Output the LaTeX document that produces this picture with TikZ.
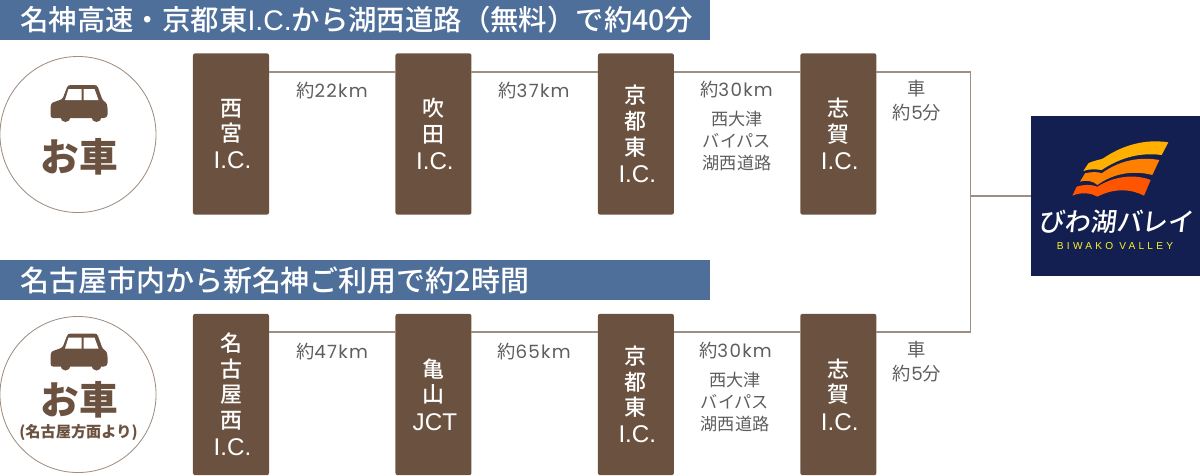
\documentclass[tikz,border=0pt]{standalone}
\usepackage{fontspec}
\setmainfont{Noto Sans CJK JP}
\newfontfamily\latinfont{Liberation Sans}
\newfontfamily\digitfont[LetterSpace=7]{Poppins}
\newfontfamily\mediumfont{Noto Sans CJK JP Medium}
\newfontfamily\logofont[FakeSlant=0.12]{Noto Sans CJK JP Medium}
\usepackage{xcolor}
\usetikzlibrary{positioning,calc}
\definecolor{barblue}{HTML}{4F6F9B}
\definecolor{boxbrown}{HTML}{6B5240}
\definecolor{linebrown}{HTML}{A08E80}
\definecolor{labelgray}{HTML}{5E5E5E}
\definecolor{navy}{HTML}{131F50}
\definecolor{waveone}{HTML}{FFB000}
\definecolor{wavetwo}{HTML}{FF8000}
\definecolor{wavethree}{HTML}{FF5500}
\newcommand{\stopcode}[1]{{\latinfont\fontsize{17.2}{18}\selectfont\hspace*{2pt}#1}}

\begin{document}
\begin{tikzpicture}[
    x=0.025cm, y=-0.025cm,
    node distance=3.16cm,
    stopbox/.style={rectangle, fill=boxbrown, text=white, minimum width=1.9cm, minimum height=4.03cm, inner sep=0pt, outer sep=0pt, rounded corners=1.5pt, align=center, font=\mediumfont\fontsize{15.6}{18.3}\selectfont},
    headbar/.style={rectangle, fill=barblue, text=white, minimum width=17.75cm, minimum height=1cm, inner sep=0pt, outer sep=0pt, anchor=north west},
    headtext/.style={anchor=west, text=white, inner sep=0pt, font=\mediumfont\fontsize{20.2}{22}\selectfont},
    lbl/.style={text=labelgray, inner sep=0pt, align=center, font=\fontsize{13}{17}\selectfont},
    sublbl/.style={text=labelgray, inner sep=0pt, align=center, font=\fontsize{12.2}{15.8}\selectfont},
    mode/.style={circle, draw=linebrown, line width=0.6pt, minimum size=3.9cm, inner sep=0pt, outer sep=0pt},
    modetext/.style={text=boxbrown, inner sep=0pt, font=\bfseries\fontsize{27.5}{29}\selectfont},
    link/.style={draw=linebrown, line width=1pt},
    car/.pic={
        \fill[boxbrown, rounded corners=1pt] (1,18) -- (12,14) -- (17,1) -- (19,0) -- (45,0) -- (47,1) -- (52,15) -- (56,18) -- (57,22) -- (57,31) -- (55,33) -- (1,33) -- (0,31) -- (0,22) -- cycle;
        \fill[white] (14.5,15) -- (18,4) -- (31,4) -- (31,15) -- cycle;
        \fill[white] (33,4) -- (44,4) -- (48,15) -- (33,15) -- cycle;
        \fill[boxbrown] (15,32) circle (5) (46,32) circle (5);
    }
]
    \useasboundingbox (0,0) rectangle (1200,475);

    % Header bars
    \node[headbar] (bartop) at (0,0) {};
    \node[headbar] (barbottom) at (0,260) {};
    \node[headtext] (titletop) at (20,20) {名神高速・京都東{\latinfont I.C.}から湖西道路（無料）で約40分};
    \node[headtext, font=\mediumfont\fontsize{20.6}{22}\selectfont] (titlebottom) at (20,280) {名古屋市内から新名神ご利用で約2時間};

    % Stops
    \node[stopbox] (nishinomiya) at (231,134) {西\\宮\\[1pt]\stopcode{I.C.}};
    \node[stopbox, right=of nishinomiya] (suita) {吹\\田\\[1pt]\stopcode{I.C.}};
    \node[stopbox, right=of suita] (kyotoeast) {京\\都\\東\\[1pt]\stopcode{I.C.}};
    \node[stopbox, right=of kyotoeast] (shiga) {志\\賀\\[1pt]\stopcode{I.C.}};
    \node[stopbox] (nagoyawest) at (231,394.5) {名\\古\\屋\\西\\[1pt]\stopcode{I.C.}};
    \node[stopbox, right=of nagoyawest] (kameyama) {亀\\山\\[1pt]\stopcode{JCT}};
    \node[stopbox, right=of kameyama] (kyotoeastb) {京\\都\\東\\[1pt]\stopcode{I.C.}};
    \node[stopbox, right=of kyotoeastb] (shigab) {志\\賀\\[1pt]\stopcode{I.C.}};

    % Connectors
    \coordinate (railtop) at (970.5,72);
    \coordinate (railbottom) at (970.5,332);
    \draw[link] (nishinomiya.east |- railtop) -- (suita.west |- railtop);
    \draw[link] (suita.east |- railtop) -- (kyotoeast.west |- railtop);
    \draw[link] (kyotoeast.east |- railtop) -- (shiga.west |- railtop);
    \draw[link] (shiga.east |- railtop) -- (railtop) -- (railbottom) -- (shigab.east |- railbottom);
    \draw[link] (nagoyawest.east |- railbottom) -- (kameyama.west |- railbottom);
    \draw[link] (kameyama.east |- railbottom) -- (kyotoeastb.west |- railbottom);
    \draw[link] (kyotoeastb.east |- railbottom) -- (shigab.west |- railbottom);

    % Distances
    \node[lbl] (dista) at (332,91) {約{\digitfont 22km}};
    \node[lbl] (distb) at (534,91) {約{\digitfont 37km}};
    \node[lbl] (distc) at (736.5,90) {約{\digitfont 30km}};
    \node[sublbl] (viatop) at (737,141) {西大津\\バイパス\\湖西道路};
    \node[lbl] (drivetop) at (917,101) {車\\約{\digitfont 5}分};
    \node[lbl] (distd) at (332,352) {約{\digitfont 47km}};
    \node[lbl] (diste) at (534,352) {約{\digitfont 65km}};
    \node[lbl] (distf) at (735.5,351) {約{\digitfont 30km}};
    \node[sublbl] (viabottom) at (735,402) {西大津\\バイパス\\湖西道路};
    \node[lbl] (drivebottom) at (917,362) {車\\約{\digitfont 5}分};

    % Car circles
    \node[mode] (cartop) at (78,134.5) {};
    \pic at (50.5,85) {car};
    \node[modetext] (cartoptext) at (79,157) {お車};
    \node[mode] (carbottom) at (78,394.5) {};
    \pic at (50.5,333.5) {car};
    \node[modetext] (carbottomtext) at (79,400) {お車};
    \node[text=boxbrown, inner sep=0pt, font=\bfseries\fontsize{10.8}{12}\selectfont] (carbottomsub) at (78.5,433) {(名古屋方面より)};

    % Logo
    \node[rectangle, fill=navy, minimum width=4.225cm, minimum height=4cm, inner sep=0pt, outer sep=0pt] (logo) at (1115.5,196) {};
    \draw[link] (railtop |- logo.west) -- (logo.west);
    \begin{scope}[shift={(1020,105)}, x=0.025cm/3, y=-0.025cm/3]
        \fill[waveone] (190,198) -- (205,175) .. controls (225,165) and (240,165) .. (250,160) .. controls (300,125) and (370,100) .. (445,112) -- (425,150) .. controls (350,140) and (290,165) .. (245,195) .. controls (225,192) and (205,192) .. (190,198) -- cycle;
        \fill[wavetwo] (180,230) -- (195,205) .. controls (215,200) and (235,200) .. (245,205) .. controls (300,165) and (360,155) .. (418,165) -- (397,210) .. controls (340,195) and (280,205) .. (232,240) .. controls (215,225) and (195,225) .. (180,230) -- cycle;
        \fill[wavethree] (157,272) -- (170,245) .. controls (190,238) and (215,238) .. (232,245) .. controls (280,215) and (340,205) .. (392,225) -- (372,272) .. controls (330,250) and (280,250) .. (232,275) .. controls (210,262) and (180,262) .. (157,272) -- cycle;
    \end{scope}
    \node[text=white, inner sep=0pt, font=\logofont\fontsize{18.4}{20}\selectfont] (logoname) at (1116,222) {びわ湖バレイ};
    \node[text=yellow!85!white, inner sep=0pt, font=\latinfont\fontsize{7.2}{8}\selectfont] (logosub) at (1115,246) {\addfontfeature{LetterSpace=32}BIWAKO VALLEY};
\end{tikzpicture}
\end{document}
